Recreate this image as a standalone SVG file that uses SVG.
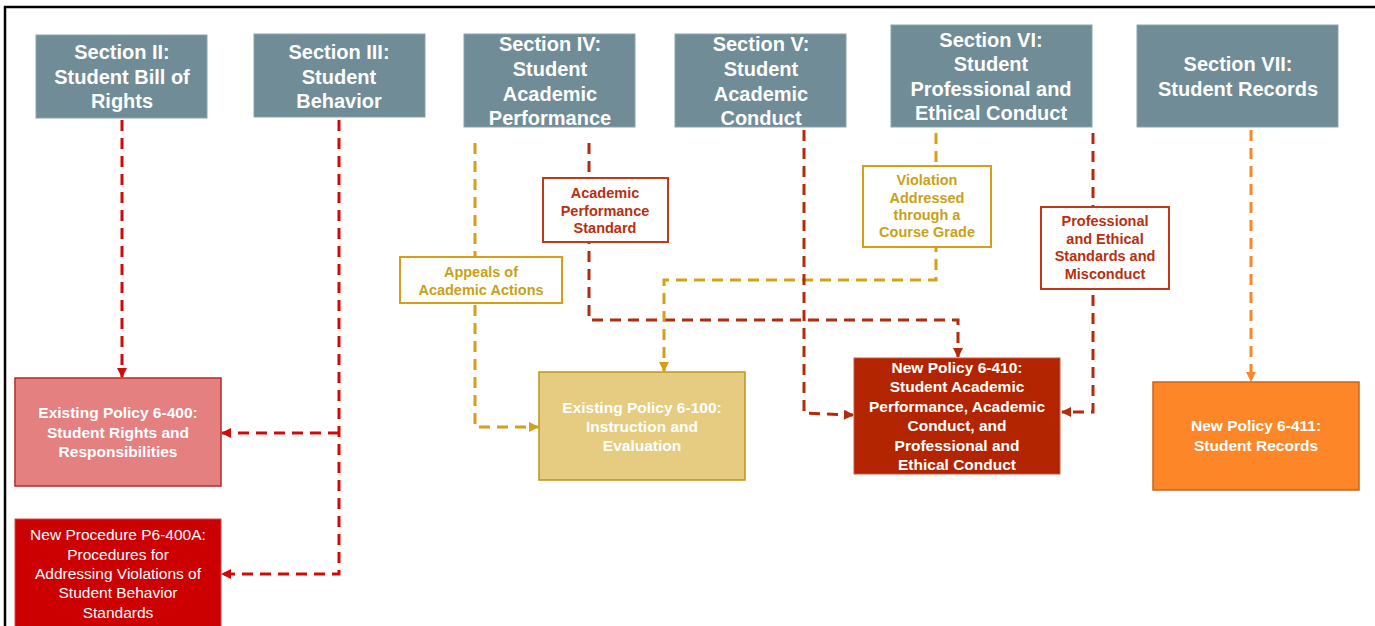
<svg xmlns="http://www.w3.org/2000/svg" width="1375" height="626" viewBox="0 0 1375 626">
<style>
text{font-family:"Liberation Sans",Arial,sans-serif;text-anchor:middle}
.sec rect{fill:#6f8c97;stroke:#8aa3ad;stroke-width:1}
.sec text{fill:#fff;font-size:20px;font-weight:bold}
.dest text{fill:#fff;font-size:15.5px;font-weight:bold}
.dest text.n{font-weight:normal;font-size:15.5px}
.lbl rect{fill:#fff;stroke-width:2}
.lbl text{font-size:14.5px;font-weight:bold}
.lr rect{stroke:#c0391b}.lr text{fill:#b8300f}
.ly rect{stroke:#d4a017}.ly text{fill:#caa016}
.c path{fill:none;stroke-width:3;stroke-dasharray:11 7}
.cr{stroke:#d00a0a}
.cd{stroke:#b52a0c}
.cy{stroke:#d4a017}
.co{stroke:#fd8628}
</style>
<defs>
<marker id="ar" viewBox="0 0 10 10" refX="9" refY="5" markerWidth="11" markerHeight="10" markerUnits="userSpaceOnUse" orient="auto"><path d="M0,0L10,5L0,10z" fill="#d00a0a"/></marker>
<marker id="ad" viewBox="0 0 10 10" refX="9" refY="5" markerWidth="11" markerHeight="10" markerUnits="userSpaceOnUse" orient="auto"><path d="M0,0L10,5L0,10z" fill="#b52a0c"/></marker>
<marker id="ay" viewBox="0 0 10 10" refX="9" refY="5" markerWidth="11" markerHeight="10" markerUnits="userSpaceOnUse" orient="auto"><path d="M0,0L10,5L0,10z" fill="#d4a017"/></marker>
<marker id="ao" viewBox="0 0 10 10" refX="9" refY="5" markerWidth="11" markerHeight="10" markerUnits="userSpaceOnUse" orient="auto"><path d="M0,0L10,5L0,10z" fill="#fd8628"/></marker>
</defs>
<rect width="1375" height="626" fill="#fff"/>
<path d="M5,626V7H1375" fill="none" stroke="#000" stroke-width="2.5"/>

<g id="connectors" class="c">
<path class="cr" d="M122,120V377" marker-end="url(#ar)"/>
<path class="cr" d="M339,120V574H222" marker-end="url(#ar)"/>
<path class="cr" d="M339,433H222" marker-end="url(#ar)"/>
<path class="cy" d="M475,143V427H538" marker-end="url(#ay)"/>
<path class="cd" d="M589,143V320H958V357" marker-end="url(#ad)"/>
<path class="cy" d="M936,133V280H664V371" marker-end="url(#ay)"/>
<path class="cd" d="M804,130V413L853,415" marker-end="url(#ad)"/>
<path class="cd" d="M1093,133V412H1062" marker-end="url(#ad)"/>
<path class="co" d="M1251,130V381" marker-end="url(#ao)"/>
</g>

<g id="sec2" class="sec"><rect x="36" y="35" width="171" height="83"/>
<text x="122" y="59">Section II:</text><text x="122" y="84">Student Bill of</text><text x="122" y="108">Rights</text></g>
<g id="sec3" class="sec"><rect x="254" y="34" width="171" height="83"/>
<text x="339" y="59">Section III:</text><text x="339" y="84">Student</text><text x="339" y="108">Behavior</text></g>
<g id="sec4" class="sec"><rect x="464" y="34" width="171" height="93"/>
<text x="550" y="51">Section IV:</text><text x="550" y="76">Student</text><text x="550" y="101">Academic</text><text x="550" y="125">Performance</text></g>
<g id="sec5" class="sec"><rect x="675" y="34" width="171" height="93"/>
<text x="761" y="51">Section V:</text><text x="761" y="76">Student</text><text x="761" y="101">Academic</text><text x="761" y="125">Conduct</text></g>
<g id="sec6" class="sec"><rect x="891" y="25" width="201" height="102"/>
<text x="991" y="47">Section VI:</text><text x="991" y="71">Student</text><text x="991" y="96">Professional and</text><text x="991" y="120">Ethical Conduct</text></g>
<g id="sec7" class="sec"><rect x="1137" y="25" width="201" height="102"/>
<text x="1238" y="71">Section VII:</text><text x="1238" y="96">Student Records</text></g>

<g id="lbl-aps" class="lbl lr"><rect x="543" y="178" width="125" height="64"/>
<text x="605" y="198">Academic</text><text x="605" y="216">Performance</text><text x="605" y="233">Standard</text></g>
<g id="lbl-appeals" class="lbl ly"><rect x="400" y="257" width="162" height="46"/>
<text x="481" y="277">Appeals of</text><text x="481" y="295">Academic Actions</text></g>
<g id="lbl-viol" class="lbl ly"><rect x="863" y="166" width="128" height="81"/>
<text x="927" y="185">Violation</text><text x="927" y="203">Addressed</text><text x="927" y="220">through a</text><text x="927" y="237">Course Grade</text></g>
<g id="lbl-prof" class="lbl lr"><rect x="1041" y="207" width="128" height="82"/>
<text x="1105" y="226">Professional</text><text x="1105" y="244">and Ethical</text><text x="1105" y="261">Standards and</text><text x="1105" y="279">Misconduct</text></g>

<g id="p6400" class="dest"><rect x="15" y="378" width="206" height="108" fill="#e48080" stroke="#b8282a" stroke-width="1.5"/>
<text x="118" y="418">Existing Policy 6-400:</text><text x="118" y="438">Student Rights and</text><text x="118" y="457">Responsibilities</text></g>
<g id="p6400a" class="dest"><rect x="15" y="519" width="206" height="112" fill="#cc0000" stroke="#d64a4a" stroke-width="1"/>
<text class="n" x="118" y="540">New Procedure P6-400A:</text>
<text class="n" x="118" y="560">Procedures for</text>
<text class="n" x="118" y="579">Addressing Violations of</text>
<text class="n" x="118" y="598">Student Behavior</text>
<text class="n" x="118" y="618">Standards</text></g>
<g id="p6100" class="dest"><rect x="539" y="372" width="206" height="108" fill="#e5cc80" stroke="#bf9512" stroke-width="1.5"/>
<text x="642" y="413">Existing Policy 6-100:</text><text x="642" y="432">Instruction and</text><text x="642" y="451">Evaluation</text></g>
<g id="p6410" class="dest"><rect x="854" y="358" width="206" height="116" fill="#b32500" stroke="#c85a40" stroke-width="1"/>
<text x="957" y="373">New Policy 6-410:</text><text x="957" y="392">Student Academic</text><text x="957" y="412">Performance, Academic</text><text x="957" y="431">Conduct, and</text><text x="957" y="451">Professional and</text><text x="957" y="470">Ethical Conduct</text></g>
<g id="p6411" class="dest"><rect x="1153" y="382" width="206" height="108" fill="#fd8628" stroke="#c8661e" stroke-width="1.5"/>
<text x="1256" y="431">New Policy 6-411:</text><text x="1256" y="451">Student Records</text></g>
</svg>
